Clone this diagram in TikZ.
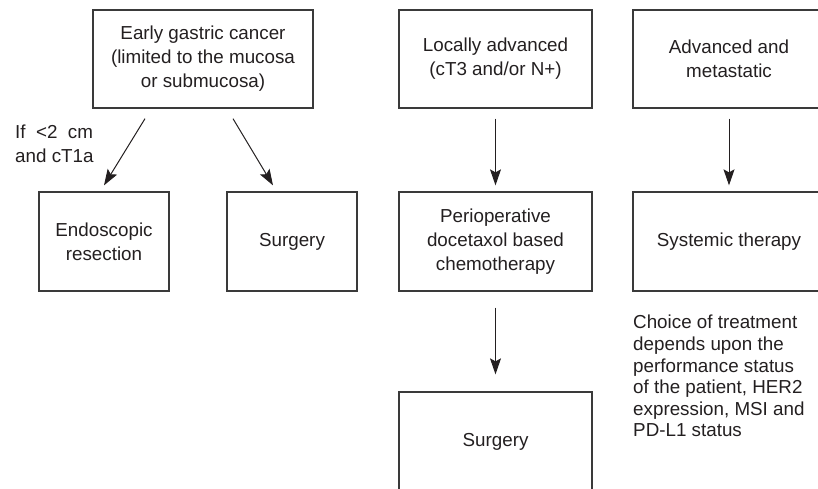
\documentclass[tikz,border=0pt]{standalone}
\usepackage{fontspec}
\setmainfont{Liberation Sans}
\usetikzlibrary{arrows.meta}
\definecolor{ink}{HTML}{231F20}
\definecolor{edge}{HTML}{3A3A3A}
\tikzset{>={Stealth[length=16pt,width=11pt,inset=3pt]}}

\begin{document}
\begin{tikzpicture} [x=1pt,y=-1pt,font=\fontsize{18.8}{24}\selectfont,text=ink]

\tikzstyle{box}=[draw=edge,line width=1.3pt,align=center,inner sep=0pt]
\tikzstyle{arr}=[->,draw=ink,line width=1pt]

  \useasboundingbox (0,0) rectangle (818,488);
  \clip (0,0) rectangle (818,488);

  % top row
  \node[box,minimum width=220pt,minimum height=98pt] (early) at (203,59)
    {Early gastric cancer\\(limited to the mucosa\\or submucosa)};
  \node[box,minimum width=193pt,minimum height=98pt] (local) at (495.5,59)
    {Locally advanced\\(cT3 and/or N+)};
  \node[box,minimum width=192pt,minimum height=98pt] (adv) at (729,59)
    {Advanced and\\metastatic};

  % second row
  \node[box,minimum width=130pt,minimum height=99pt] (endo) at (104,241.5)
    {Endoscopic\\resection};
  \node[box,minimum width=130pt,minimum height=99pt] (surgA) at (292,241.5)
    {Surgery};
  \node[box,minimum width=193pt,minimum height=99pt] (periop) at (495.5,241.5)
    {Perioperative\\docetaxol based\\chemotherapy};
  \node[box,minimum width=192pt,minimum height=99pt] (sys) at (729,241.5)
    {Systemic therapy};

  % third row
  \node[box,minimum width=193pt,minimum height=99pt] (surgB) at (495.5,441.5)
    {Surgery};

  \node[anchor=west,align=left,inner sep=0pt] (cond) at (15,144)
    {If \ {<}2 \ cm\\and cT1a};
  \node[anchor=north west,align=left,inner sep=0pt,
        font=\fontsize{18.8}{21.6}\selectfont] (note) at (633,315)
    {Choice of treatment\\depends upon the\\performance status\\of the patient, HER2\\expression, MSI and\\PD-L1 status};

  \draw[arr] ([xshift=-58pt,yshift=-10pt]early.south) -- ([yshift=6pt]endo.north);
  \draw[arr] ([xshift=30pt,yshift=-10pt]early.south) -- ([xshift=-19pt,yshift=6pt]surgA.north);
  \draw[arr] ([yshift=-10pt]local.south) -- ([yshift=6pt]periop.north);
  \draw[arr] ([yshift=-10pt]adv.south) -- ([yshift=6pt]sys.north);
  \draw[arr] ([yshift=-16pt]periop.south) -- ([yshift=17pt]surgB.north);
\end{tikzpicture}
\end{document}
